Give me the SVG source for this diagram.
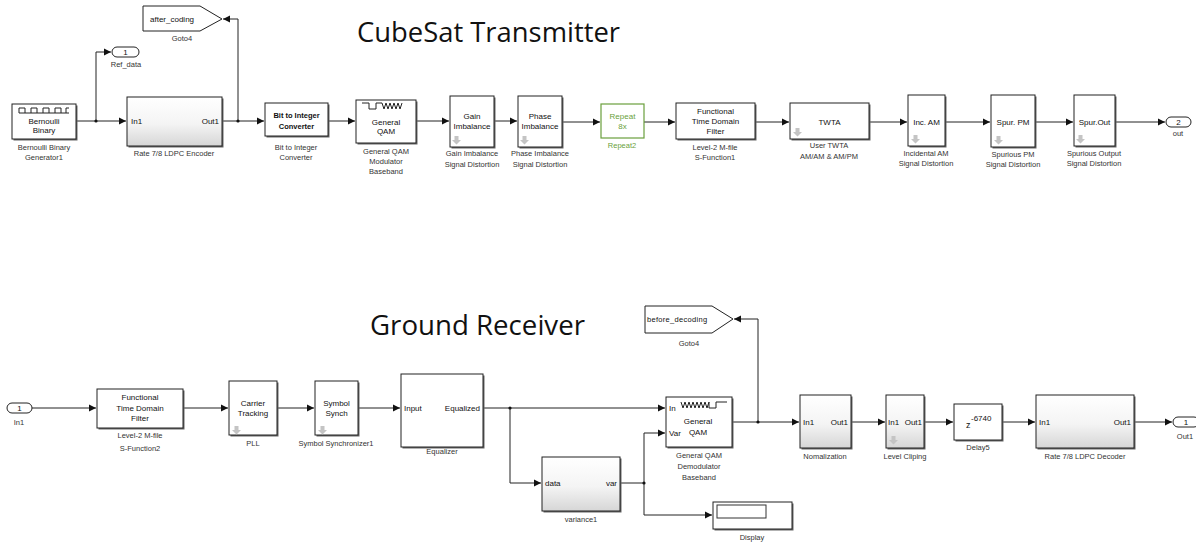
<svg xmlns="http://www.w3.org/2000/svg" width="1196" height="543" viewBox="0 0 1196 543">
<defs>
<linearGradient id="sub" x1="0" y1="0" x2="0" y2="1"><stop offset="0" stop-color="#ffffff"/><stop offset="0.55" stop-color="#f4f4f4"/><stop offset="1" stop-color="#d6d6d6"/></linearGradient>
<marker id="arr" markerWidth="8" markerHeight="8" refX="7" refY="4" orient="auto" markerUnits="userSpaceOnUse"><path d="M0,0.5 L7,4 L0,7.5 z" fill="#111"/></marker>
<path id="dn" d="M2.5,0 h4 v4 h2.5 l-4.5,4.5 l-4.5,-4.5 h2.5 z" fill="#c4c4c4"/>
</defs>
<style>
.b{fill:#fff;stroke:#222;stroke-width:1}
.s{fill:url(#sub);stroke:#222;stroke-width:1}
.sh{fill:#666}
.t{font-family:"Liberation Sans",Arial,sans-serif;font-size:8px;fill:#111}
.tc{font-family:"Liberation Sans",Arial,sans-serif;font-size:8px;fill:#111;text-anchor:middle}
.l{font-family:"Liberation Sans",Arial,sans-serif;font-size:7.5px;fill:#333;text-anchor:middle}
.ttl{font-family:"Open Sans","Noto Sans",sans-serif;font-size:27px;fill:#111}
.w{fill:none;stroke:#222;stroke-width:1}
.c{fill:none;stroke:#222;stroke-width:1}
.j{fill:#111}
</style>
<rect width="1196" height="543" fill="#fff"/>
<text class="ttl" x="357" y="42" textLength="263" lengthAdjust="spacingAndGlyphs">CubeSat Transmitter</text>
<text class="ttl" x="370" y="335" textLength="215" lengthAdjust="spacingAndGlyphs">Ground Receiver</text>

<g id="connectors">
<path class="c" d="M76,121 H126" marker-end="url(#arr)"/>
<path class="c" d="M96,121 V52 H111" marker-end="url(#arr)"/>
<path class="c" d="M222,121 H264" marker-end="url(#arr)"/>
<path class="c" d="M238,121 V19 H223" marker-end="url(#arr)"/>
<path class="c" d="M328,121 H355" marker-end="url(#arr)"/>
<path class="c" d="M416,121 H449" marker-end="url(#arr)"/>
<path class="c" d="M494,121 H517" marker-end="url(#arr)"/>
<path class="c" d="M562,122 H600" marker-end="url(#arr)"/>
<path class="c" d="M644,122 H675" marker-end="url(#arr)"/>
<path class="c" d="M755,122 H789" marker-end="url(#arr)"/>
<path class="c" d="M869,122 H907" marker-end="url(#arr)"/>
<path class="c" d="M945,122 H990" marker-end="url(#arr)"/>
<path class="c" d="M1035,122 H1073" marker-end="url(#arr)"/>
<path class="c" d="M1115,122 H1165" marker-end="url(#arr)"/>
<path class="c" d="M32,408 H96" marker-end="url(#arr)"/>
<path class="c" d="M183,408 H228" marker-end="url(#arr)"/>
<path class="c" d="M277,408 H314" marker-end="url(#arr)"/>
<path class="c" d="M358,408 H400" marker-end="url(#arr)"/>
<path class="c" d="M483,408 H665" marker-end="url(#arr)"/>
<path class="c" d="M510,408 V483 H541" marker-end="url(#arr)"/>
<path class="c" d="M620,483 H644 V433 H665" marker-end="url(#arr)"/>
<path class="c" d="M644,483 V515 H712" marker-end="url(#arr)"/>
<path class="c" d="M732,422 H799" marker-end="url(#arr)"/>
<path class="c" d="M758,422 V319 H734" marker-end="url(#arr)"/>
<path class="c" d="M851,422 H885" marker-end="url(#arr)"/>
<path class="c" d="M924,422 H953" marker-end="url(#arr)"/>
<path class="c" d="M1002,422 H1035" marker-end="url(#arr)"/>
<path class="c" d="M1134,422 H1172" marker-end="url(#arr)"/>
<circle class="j" cx="96" cy="121" r="1.6"/>
<circle class="j" cx="238" cy="121" r="1.6"/>
<circle class="j" cx="510" cy="408" r="1.6"/>
<circle class="j" cx="644" cy="483" r="1.6"/>
<circle class="j" cx="758" cy="422" r="1.6"/>
</g>

<g id="bernoulli">
<rect class="sh" x="13.5" y="105.5" width="64" height="35"/>
<rect class="b" x="12" y="104" width="64" height="35"/>
<path class="w" d="M19,113 H69 M19,113 V108 H25 V113 M31,113 V108 H37 V113 M43,113 V108 H49 V113 M55,113 V108 H61 V113 M66,113 V108 H69"/>
<text class="tc" x="44" y="124">Bernoulli</text>
<text class="tc" x="44" y="133">Binary</text>
<text class="l" x="44" y="150">Bernoulli Binary</text>
<text class="l" x="44" y="160">Generator1</text>
</g>

<g id="ref_data">
<rect x="112" y="47" width="27" height="10" rx="5" fill="#fff" stroke="#222"/>
<text class="tc" x="125.5" y="55">1</text>
<text class="l" x="126" y="67">Ref_data</text>
</g>

<g id="goto_after">
<polygon points="143,6 200,6 222,19 200,31 143,31" fill="#fff" stroke="#222"/>
<text class="t" x="150" y="22">after_coding</text>
<text class="l" x="182" y="41">Goto4</text>
</g>

<g id="ldpc_enc">
<rect class="sh" x="128.5" y="98.5" width="95" height="49"/>
<rect class="s" x="127" y="97" width="95" height="49"/>
<text class="t" x="131" y="124">In1</text>
<text class="t" x="219" y="124" text-anchor="end">Out1</text>
<text class="l" x="174" y="156">Rate 7/8 LDPC Encoder</text>
</g>

<g id="bit2int">
<rect class="sh" x="266.5" y="104.5" width="63" height="33"/>
<rect class="b" x="265" y="103" width="63" height="33"/>
<text class="tc" x="296.5" y="118" font-weight="bold" style="font-size:7.5px">Bit to Integer</text>
<text class="tc" x="296.5" y="129" font-weight="bold" style="font-size:7.5px">Converter</text>
<text class="l" x="296" y="150">Bit to Integer</text>
<text class="l" x="296" y="160">Converter</text>
</g>

<g id="qam_mod">
<rect class="sh" x="357.5" y="101.5" width="60" height="43"/>
<rect class="b" x="356" y="100" width="60" height="43"/>
<path class="w" d="M362,103 H369 V109 H376 V103 H382 M382,103 L384,109 L386,103 L388,109 L390,103 L392,109 L394,103 L396,109 L398,103 L400,109 L402,103"/>
<text class="tc" x="386" y="125">General</text>
<text class="tc" x="386" y="134">QAM</text>
<text class="l" x="386" y="154">General QAM</text>
<text class="l" x="386" y="164">Modulator</text>
<text class="l" x="386" y="174">Baseband</text>
</g>

<g id="gain_imb">
<rect class="sh" x="451.5" y="97.5" width="44" height="51"/>
<rect class="b" x="450" y="96" width="44" height="51"/>
<text class="tc" x="472" y="119">Gain</text>
<text class="tc" x="472" y="129">Imbalance</text>
<use href="#dn" x="452" y="136"/>
<text class="l" x="472" y="156">Gain Imbalance</text>
<text class="l" x="472" y="167">Signal Distortion</text>
</g>

<g id="phase_imb">
<rect class="sh" x="519.5" y="97.5" width="44" height="51"/>
<rect class="b" x="518" y="96" width="44" height="51"/>
<text class="tc" x="540" y="119">Phase</text>
<text class="tc" x="540" y="129">Imbalance</text>
<use href="#dn" x="520" y="136"/>
<text class="l" x="540" y="156">Phase Imbalance</text>
<text class="l" x="540" y="167">Signal Distortion</text>
</g>

<g id="repeat">
<rect x="601" y="104" width="43" height="34" fill="#fff" stroke="#6a9f3c" stroke-width="1.2"/>
<text class="tc" x="622.5" y="119" style="fill:#6a9f3c">Repeat</text>
<text class="tc" x="622.5" y="129" style="fill:#6a9f3c">8x</text>
<text class="l" x="622" y="148" style="fill:#6a9f3c">Repeat2</text>
</g>

<g id="ftdf1">
<rect class="sh" x="677.5" y="104.5" width="79" height="36"/>
<rect class="b" x="676" y="103" width="79" height="36"/>
<text class="tc" x="715.5" y="114">Functional</text>
<text class="tc" x="715.5" y="124">Time Domain</text>
<text class="tc" x="715.5" y="134">Filter</text>
<text class="l" x="715" y="150">Level-2 M-file</text>
<text class="l" x="715" y="160">S-Function1</text>
</g>

<g id="twta">
<rect class="sh" x="791.5" y="104.5" width="79" height="36"/>
<rect class="b" x="790" y="103" width="79" height="36"/>
<text class="tc" x="829.5" y="125">TWTA</text>
<use href="#dn" x="793" y="128"/>
<text class="l" x="829" y="148">User TWTA</text>
<text class="l" x="829" y="159">AM/AM &amp; AM/PM</text>
</g>

<g id="inc_am">
<rect class="sh" x="909.5" y="96.5" width="37" height="51"/>
<rect class="b" x="908" y="95" width="37" height="51"/>
<text class="tc" x="926.5" y="125">Inc. AM</text>
<use href="#dn" x="911" y="135"/>
<text class="l" x="926" y="156">Incidental AM</text>
<text class="l" x="926" y="166">Signal Distortion</text>
</g>

<g id="spur_pm">
<rect class="sh" x="992.5" y="96.5" width="44" height="52"/>
<rect class="b" x="991" y="95" width="44" height="52"/>
<text class="tc" x="1013" y="125">Spur. PM</text>
<use href="#dn" x="994" y="136"/>
<text class="l" x="1013" y="157">Spurious PM</text>
<text class="l" x="1013" y="167">Signal Distortion</text>
</g>

<g id="spur_out">
<rect class="sh" x="1075.5" y="96.5" width="41" height="51"/>
<rect class="b" x="1074" y="95" width="41" height="51"/>
<text class="tc" x="1094.5" y="125">Spur.Out</text>
<use href="#dn" x="1076" y="135"/>
<text class="l" x="1094" y="156">Spurious Output</text>
<text class="l" x="1094" y="166">Signal Distortion</text>
</g>

<g id="out_port">
<rect x="1166" y="117" width="25" height="10" rx="5" fill="#fff" stroke="#222"/>
<text class="tc" x="1178.5" y="125">2</text>
<text class="l" x="1178" y="136">out</text>
</g>

<g id="in1">
<rect x="7" y="403" width="25" height="10" rx="5" fill="#fff" stroke="#222"/>
<text class="tc" x="19.5" y="411">1</text>
<text class="l" x="19" y="425">In1</text>
</g>

<g id="ftdf2">
<rect class="sh" x="98.5" y="390.5" width="86" height="39"/>
<rect class="b" x="97" y="389" width="86" height="39"/>
<text class="tc" x="140" y="400">Functional</text>
<text class="tc" x="140" y="411">Time Domain</text>
<text class="tc" x="140" y="421">Filter</text>
<text class="l" x="140" y="438">Level-2 M-file</text>
<text class="l" x="140" y="451">S-Function2</text>
</g>

<g id="carrier">
<rect class="sh" x="230.5" y="382.5" width="48" height="54"/>
<rect class="b" x="229" y="381" width="48" height="54"/>
<text class="tc" x="253" y="406">Carrier</text>
<text class="tc" x="253" y="416">Tracking</text>
<use href="#dn" x="232" y="426"/>
<text class="l" x="253" y="446">PLL</text>
</g>

<g id="symsync">
<rect class="sh" x="316.5" y="382.5" width="43" height="54"/>
<rect class="b" x="315" y="381" width="43" height="54"/>
<text class="tc" x="336.5" y="406">Symbol</text>
<text class="tc" x="336.5" y="416">Synch</text>
<use href="#dn" x="318" y="426"/>
<text class="l" x="336" y="446">Symbol Synchronizer1</text>
</g>

<g id="equalizer">
<rect class="sh" x="402.5" y="375.5" width="82" height="73"/>
<rect class="b" x="401" y="374" width="82" height="73"/>
<text class="t" x="404" y="411">Input</text>
<text class="t" x="480" y="411" text-anchor="end">Equalized</text>
<text class="l" x="442" y="454">Equalizer</text>
</g>

<g id="goto_before">
<polygon points="645,306 712,306 733,319 712,333 645,333" fill="#fff" stroke="#222"/>
<text class="t" x="647" y="322" style="font-size:7.5px" letter-spacing="0.3">before_decoding</text>
<text class="l" x="689" y="346">Goto4</text>
</g>

<g id="qam_demod">
<rect class="sh" x="667.5" y="398.5" width="66" height="50"/>
<rect class="b" x="666" y="397" width="66" height="50"/>
<path class="w" d="M681,402 L683,408 L685,402 L687,408 L689,402 L691,408 L693,402 L695,408 L697,402 L699,408 L701,402 L703,408 L705,402 L707,408 L709,402 M709,402 V408 H716 V402 H722 V402 H727"/>
<text class="t" x="669" y="411">In</text>
<text class="t" x="669" y="436">Var</text>
<text class="tc" x="698" y="424">General</text>
<text class="tc" x="698" y="435">QAM</text>
<text class="l" x="699" y="458">General QAM</text>
<text class="l" x="699" y="469">Demodulator</text>
<text class="l" x="699" y="480">Baseband</text>
</g>

<g id="variance1">
<rect class="sh" x="543.5" y="458.5" width="78" height="54"/>
<rect class="s" x="542" y="457" width="78" height="54"/>
<text class="t" x="545" y="486">data</text>
<text class="t" x="617" y="486" text-anchor="end">var</text>
<text class="l" x="581" y="522">variance1</text>
</g>

<g id="display">
<rect class="sh" x="714.5" y="503.5" width="79" height="27"/>
<rect class="b" x="713" y="502" width="79" height="27"/>
<rect x="717" y="505" width="49" height="13" fill="#fff" stroke="#333"/>
<text class="l" x="752" y="540">Display</text>
</g>

<g id="normalization">
<rect class="sh" x="801.5" y="396.5" width="51" height="53"/>
<rect class="s" x="800" y="395" width="51" height="53"/>
<text class="t" x="803" y="425">In1</text>
<text class="t" x="848" y="425" text-anchor="end">Out1</text>
<text class="l" x="825" y="459">Nomalization</text>
</g>

<g id="level_clip">
<rect class="sh" x="887.5" y="396.5" width="38" height="53"/>
<rect class="s" x="886" y="395" width="38" height="53"/>
<text class="t" x="888" y="425">In1</text>
<text class="t" x="922" y="425" text-anchor="end">Out1</text>
<use href="#dn" x="889" y="436"/>
<text class="l" x="905" y="459">Level Cliping</text>
</g>

<g id="delay5">
<rect class="sh" x="955.5" y="405.5" width="48" height="36"/>
<rect class="b" x="954" y="404" width="48" height="36"/>
<text class="t" x="966" y="428" style="font-size:9px">z</text>
<text class="t" x="971" y="421">-6740</text>
<text class="l" x="978" y="450">Delay5</text>
</g>

<g id="ldpc_dec">
<rect class="sh" x="1037.5" y="396.5" width="98" height="53"/>
<rect class="s" x="1036" y="395" width="98" height="53"/>
<text class="t" x="1039" y="425">In1</text>
<text class="t" x="1131" y="425" text-anchor="end">Out1</text>
<text class="l" x="1085" y="459">Rate 7/8 LDPC Decoder</text>
</g>

<g id="out1">
<rect x="1173" y="417" width="26" height="10" rx="5" fill="#fff" stroke="#222"/>
<text class="tc" x="1186" y="425">1</text>
<text class="l" x="1185" y="439">Out1</text>
</g>
</svg>
